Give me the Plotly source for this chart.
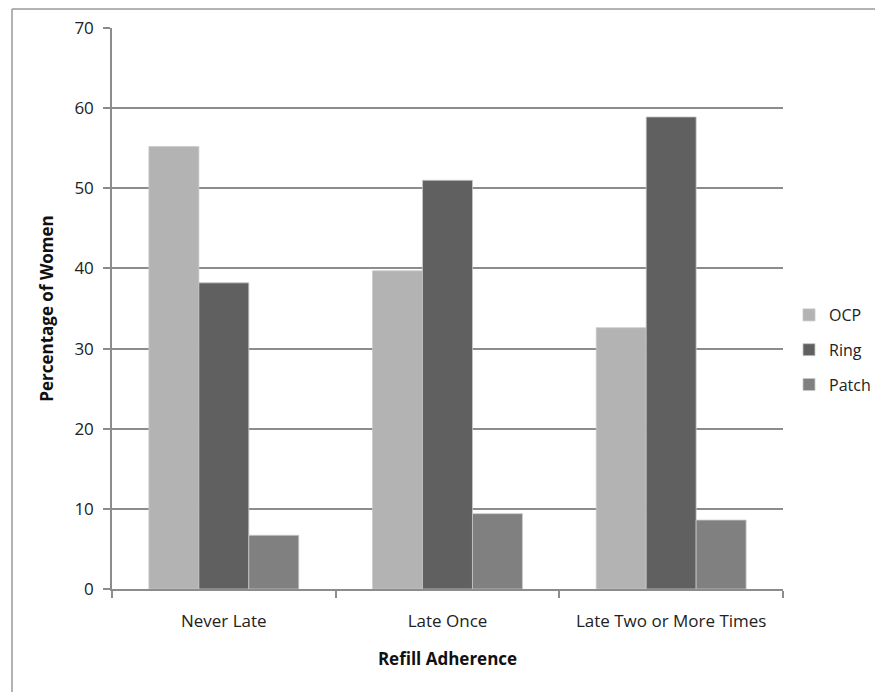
import plotly.graph_objects as go

categories = ["Never Late", "Late Once", "Late Two or More Times"]
ocp = [55.2, 39.7, 32.6]
ring = [38.2, 51.0, 58.9]
patch = [6.7, 9.4, 8.6]
series_names = ["OCP", "Ring", "Patch"]
colors = ["#b3b3b3", "#606060", "#808080"]
y_ticks = [0, 10, 20, 30, 40, 50, 60, 70]

OFF = 8  # default page body margin
W, H = 883 - OFF, 692 - OFF
L, T = 112 - OFF, 28 - OFF
R = W - (783 - OFF)
B = H - (589 - OFF)
pw, ph = W - L - R, H - T - B

def px_x(px):
    return (px - OFF - L) / pw

def px_y(py):
    return (H - B - (py - OFF)) / ph

fig = go.Figure()
for name, vals, col in zip(series_names, [ocp, ring, patch], colors):
    fig.add_trace(go.Bar(
        x=categories, y=vals, name=name, legendgroup=name,
        marker=dict(color=col, line=dict(color="#c8c8c8", width=0.8)),
    ))

font = "Open Sans, Liberation Sans, sans-serif"
fs = 17
fig.update_layout(
    width=W, height=H,
    margin=dict(l=L, r=R, t=T, b=B, autoexpand=False),
    paper_bgcolor="white", plot_bgcolor="white",
    barmode="group", bargap=0.33, bargroupgap=0,
    font=dict(family=font, size=fs, color="#222"),
    showlegend=True,
    legend=dict(x=px_x(789), y=px_y(350), yanchor="middle", xanchor="left",
                traceorder="grouped", tracegroupgap=11,
                bgcolor="rgba(0,0,0,0)",
                font=dict(size=16, family=font), itemwidth=30),
    xaxis=dict(
        showline=True, linecolor="#8c8c8c", linewidth=1.5,
        ticks="outside", tickson="boundaries", ticklen=7, tickcolor="#8c8c8c",
        tickwidth=1.5, ticklabelstandoff=16,
        tickfont=dict(size=fs, family=font, color="#222"),
        title=dict(text="<b>Refill Adherence</b>", font=dict(size=fs, family=font, color="#111"), standoff=22),
    ),
    yaxis=dict(
        range=[0, 70], tickvals=y_ticks, showline=True, linecolor="#8c8c8c", linewidth=1.5,
        ticks="outside", ticklen=7, tickcolor="#8c8c8c", tickwidth=1.5,
        showgrid=True, gridcolor="#8c8c8c", gridwidth=1.5, zeroline=False,
        tickfont=dict(size=fs, family=font, color="#222"), ticklabelstandoff=6,
        title=dict(text="<b>Percentage of Women</b>", font=dict(size=fs, family=font, color="#111"), standoff=16),
    ),
)

# outer chart frame (left and top edges visible)
fig.add_shape(type="line", xref="paper", yref="paper",
              x0=px_x(12), x1=px_x(883), y0=px_y(9), y1=px_y(9),
              line=dict(color="#9a9a9a", width=1.5))
fig.add_shape(type="line", xref="paper", yref="paper",
              x0=px_x(12), x1=px_x(12), y0=px_y(9), y1=px_y(692),
              line=dict(color="#9a9a9a", width=1.5))

fig.write_html("out.html")
